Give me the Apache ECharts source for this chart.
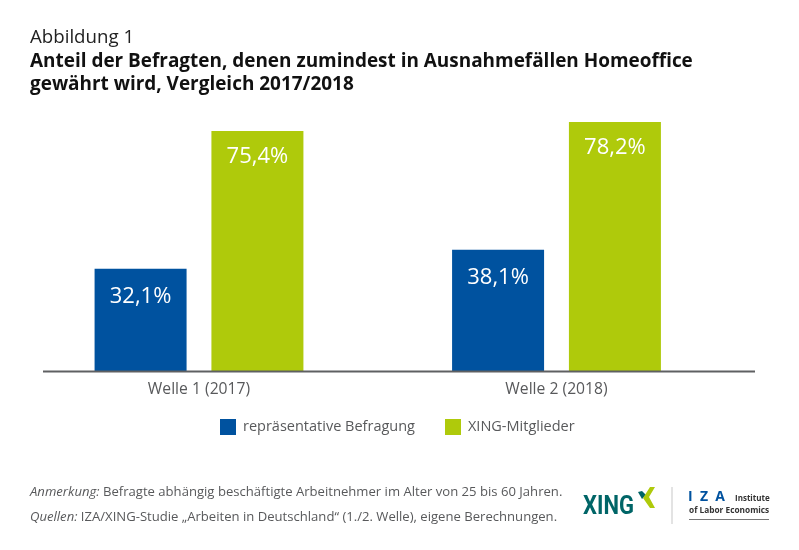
<!DOCTYPE html>
<html lang="de">
  <head>
    <meta charset="UTF-8" />
    <title>Abbildung 1</title>
    <script src="https://cdn.jsdelivr.net/npm/echarts@6/dist/echarts.min.js"></script>
    <style>
      html, body { margin: 0; padding: 0; background: #fff; }
      #chart { width: 799px; height: 550px; }
    </style>
  </head>
  <body>
    <div id="chart"></div>
    <script>
      var categories = ["Welle 1 (2017)", "Welle 2 (2018)"]
      var seriesNames = ["repräsentative Befragung", "XING-Mitglieder"]
      var befragung = [32.1, 38.1]
      var xing = [75.4, 78.2]

      var font = "Open Sans"
      var grey = "#58595b"

      function comma(p) {
        return p.value.toFixed(1).replace(".", ",") + "%"
      }

      function barSeries(name, values, color, labelDist) {
        return {
          name: name,
          type: "bar",
          data: values,
          barWidth: 92,
          barGap: "27%",
          itemStyle: { color: color },
          label: {
            show: true,
            position: "insideTop",
            distance: labelDist,
            color: "#fff",
            fontFamily: font,
            fontSize: 22,
            formatter: comma,
          },
        }
      }

      var mCharts = echarts.init(document.getElementById("chart"), null, { renderer: "canvas" })

      mCharts.setOption({
        animation: false,
        backgroundColor: "#fff",
        title: [
          {
            text: "Abbildung 1",
            left: 30,
            top: 28,
            padding: 0,
            textStyle: { fontFamily: font, fontSize: 18.7, fontWeight: "normal", color: "#222" },
          },
          {
            text: "Anteil der Befragten, denen zumindest in Ausnahmefällen Homeoffice\ngewährt wird, Vergleich 2017/2018",
            left: 30,
            top: 50,
            padding: 0,
            textStyle: { fontFamily: font, fontSize: 18.95, fontWeight: "bold", color: "#111", lineHeight: 23 },
          },
          {
            text: "{i|Anmerkung:} Befragte abhängig beschäftigte Arbeitnehmer im Alter von 25 bis 60 Jahren.\n{i|Quellen:} IZA/XING-Studie „Arbeiten in Deutschland“ (1./2. Welle), eigene Berechnungen.",
            left: 30,
            top: 480,
            padding: 0,
            textStyle: {
              fontFamily: font,
              fontSize: 13.1,
              fontWeight: "normal",
              color: grey,
              lineHeight: 25,
              rich: {
                i: { fontFamily: font, fontSize: 13.1, fontStyle: "italic", color: grey, lineHeight: 25 },
              },
            },
          },
        ],
        legend: {
          left: 220,
          top: 419,
          padding: 0,
          itemWidth: 16,
          itemHeight: 16,
          itemGap: 30,
          icon: "rect",
          data: seriesNames,
          textStyle: { fontFamily: font, fontSize: 14.5, color: grey, padding: [0, 0, 0, 2] },
        },
        grid: { left: 20.25, width: 715, top: 52.7, height: 318.3 },
        xAxis: {
          type: "category",
          data: categories,
          axisLine: { show: false },
          axisTick: { show: false },
          axisLabel: { fontFamily: font, fontSize: 15.7, color: grey, margin: 11 },
        },
        yAxis: { type: "value", min: 0, max: 100, show: false },
        series: [barSeries(seriesNames[0], befragung, "#00529f", 17), barSeries(seriesNames[1], xing, "#afca0b", 15)],
        graphic: [
          // Achsenlinie laeuft rechts weiter als das Kategorienraster
          { type: "rect", shape: { x: 43, y: 370.5, width: 712, height: 2 }, style: { fill: "#5f6062" }, z: 10 },
          // XING Logo
          {
            type: "text",
            x: 583,
            y: 495,
            scaleX: 0.88,
            style: { text: "XING", fontFamily: "Roboto", fontSize: 25, fontWeight: "bold", fill: "#006567" },
          },
          { type: "polygon", shape: { points: [[638, 492], [642, 491], [646, 495], [642, 499]] }, style: { fill: "#006567" } },
          { type: "polygon", shape: { points: [[650, 487], [655, 487], [649, 497], [655, 508], [650, 508], [643, 498]] }, style: { fill: "#afca0b" } },
          // Trenner
          { type: "rect", shape: { x: 671.5, y: 487, width: 1, height: 37 }, style: { fill: "#c8c8c8" } },
          // IZA Logo
          {
            type: "text",
            left: 688,
            top: 490,
            style: { text: "I  Z  A", fontFamily: "Open Sans", fontSize: 14, fontWeight: "bold", fill: "#00529f" },
          },
          {
            type: "text",
            left: 735,
            top: 495,
            style: { text: "Institute", fontFamily: "Open Sans", fontSize: 8, fontWeight: "bold", fill: "#333" },
          },
          {
            type: "text",
            left: 689,
            top: 507,
            style: { text: "of Labor Economics", fontFamily: "Open Sans", fontSize: 8.3, fontWeight: "bold", fill: "#333" },
          },
          { type: "rect", shape: { x: 689, y: 519, width: 80, height: 1 }, style: { fill: "#777" } },
        ],
      })
    </script>
  </body>
</html>
